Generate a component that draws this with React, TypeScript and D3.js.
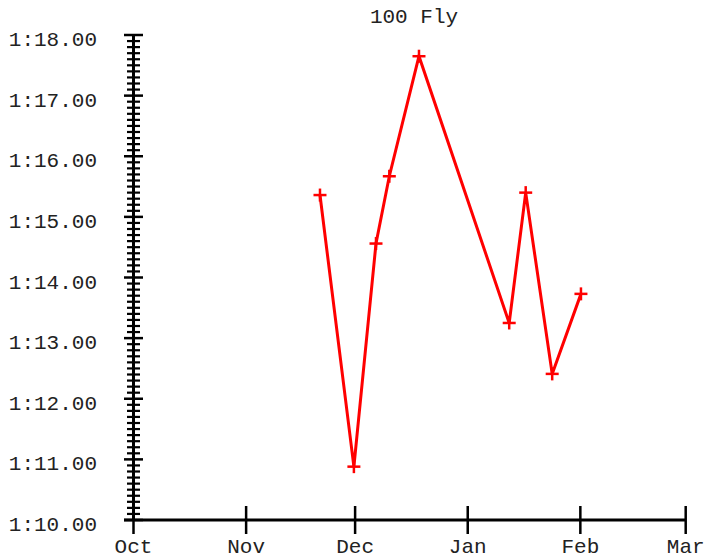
import React from 'react';
import * as d3 from 'd3';

const chartTitle = '100 Fly';
const swimDates = [
  '2019-11-21T08:00',
  '2019-11-30T16:00',
  '2019-12-06T18:00',
  '2019-12-10T10:00',
  '2019-12-18T14:00',
  '2020-01-12T10:00',
  '2020-01-16T23:00',
  '2020-01-24T06:00',
  '2020-02-01T04:00',
];
const swimSeconds = [75.36, 70.88, 74.56, 75.67, 77.65, 73.25, 75.4, 72.41, 73.73];
const monthTicks = ['2019-10-01T00:00', '2019-11-01T00:00', '2019-12-01T00:00', '2020-01-01T00:00', '2020-02-01T00:00', '2020-03-01T00:00'];
const monthLabels = ['Oct', 'Nov', 'Dec', 'Jan', 'Feb', 'Mar'];
const yMin = 70;
const yMax = 78;

const W = 706;
const H = 559;
const FONT = '"Liberation Mono", "Courier New", monospace';

function fmtTime(s: number): string {
  const m = Math.floor(s / 60);
  const r = s - m * 60;
  return `${m}:${r.toFixed(2).padStart(5, '0')}`;
}

export default function App() {
  const x = d3
    .scaleTime()
    .domain([new Date(monthTicks[0]), new Date(monthTicks[monthTicks.length - 1])])
    .range([133.5, 685.7]);
  const y = d3.scaleLinear().domain([yMin, yMax]).range([520, 35]);

  const majors = d3.range(yMin, yMax + 0.001, 1);
  const minors = d3.range(0, (yMax - yMin) * 10 + 1).map((i) => yMin + i / 10).filter((_, i) => i % 10 !== 0);

  const pts = swimDates.map((d, i) => [x(new Date(d)), y(swimSeconds[i])] as [number, number]);
  const line = d3.line<[number, number]>().x((p) => p[0]).y((p) => p[1]);

  const x0 = x.range()[0];
  const xEnd = x.range()[1];
  const yBase = y(yMin);

  return (
    <svg width={W} height={H} style={{ position: 'fixed', left: 0, top: 0, background: '#fff' }}>
      <text x={414} y={22.5} textAnchor="middle" fontFamily={FONT} fontSize={21} fill="#222">
        {chartTitle}
      </text>
      {/* y axis */}
      <line x1={x0} x2={x0} y1={y(yMax)} y2={yBase} stroke="#000" strokeWidth={3} />
      {minors.map((v, i) => (
        <line key={'mn' + i} x1={x0 - 6.5} x2={x0 + 6.5} y1={y(v)} y2={y(v)} stroke="#000" strokeWidth={2.2} />
      ))}
      {majors.map((v, i) => (
        <g key={'mj' + i}>
          <line x1={x0 - 9.5} x2={x0 + 9.5} y1={y(v)} y2={y(v)} stroke="#000" strokeWidth={2.5} />
          <text x={97} y={y(v) + 11} textAnchor="end" fontFamily={FONT} fontSize={21} fill="#222">
            {fmtTime(v)}
          </text>
        </g>
      ))}
      {/* x axis */}
      <line x1={x0 - 9.5} x2={xEnd} y1={yBase} y2={yBase} stroke="#000" strokeWidth={3} />
      {monthTicks.map((d, i) => {
        const px = x(new Date(d));
        return (
          <g key={'xt' + i}>
            <line x1={px} x2={px} y1={yBase - 14} y2={yBase + 14} stroke="#000" strokeWidth={2.5} />
            <text x={px} y={552.5} textAnchor="middle" fontFamily={FONT} fontSize={21} fill="#222">
              {monthLabels[i]}
            </text>
          </g>
        );
      })}
      {/* series */}
      <path d={line(pts) || ''} fill="none" stroke="#ff0000" strokeWidth={3} strokeLinejoin="miter" />
      {pts.map((p, i) => (
        <g key={'pt' + i} stroke="#ff0000" strokeWidth={2.5}>
          <line x1={p[0] - 6.5} x2={p[0] + 6.5} y1={p[1]} y2={p[1]} />
          <line x1={p[0]} x2={p[0]} y1={p[1] - 6.5} y2={p[1] + 6.5} />
        </g>
      ))}
    </svg>
  );
}
